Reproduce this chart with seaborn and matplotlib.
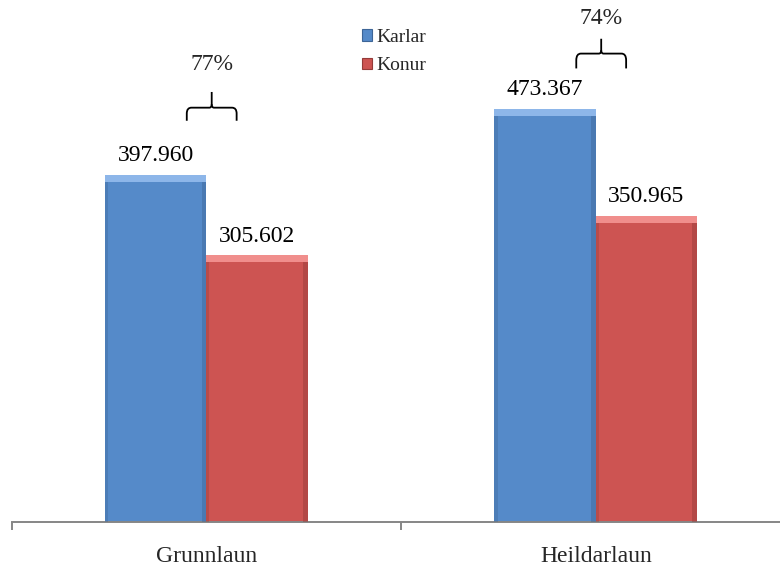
import numpy as np
import pandas as pd
import matplotlib
matplotlib.use("Agg")
import matplotlib.pyplot as plt
import matplotlib.patches as mpatches
from matplotlib.path import Path
import seaborn as sns

# ── Data ─────────────────────────────────────────────
categories = ["Grunnlaun", "Heildarlaun"]
series = ["Karlar", "Konur"]
karlar = [397.960, 473.367]
konur = [305.602, 350.965]
pct_labels = ["77%", "74%"]

colors = {"Karlar": "#558AC9", "Konur": "#CD5452"}
tops = {"Karlar": "#8DB6E9", "Konur": "#F08E8C"}
edges = {"Karlar": "#3D6597", "Konur": "#953B39"}

df = pd.DataFrame({
    "cat": categories * 2,
    "kyn": ["Karlar"] * 2 + ["Konur"] * 2,
    "val": karlar + konur,
})

# ── Style ─────────────────────────────────────────────
sns.set_theme(style="white")
plt.rcParams["font.family"] = ["Liberation Serif", "DejaVu Serif"]

fig = plt.figure(figsize=(7.8, 5.68), dpi=100)
# axis runs a little past the right edge of the picture, like the original
ax = fig.add_axes([11.5 / 780, 46 / 568, 779 / 780, 519 / 568])

sns.barplot(data=df, x="cat", y="val", hue="kyn", order=categories,
            hue_order=series, palette=colors, width=0.52, gap=0,
            saturation=1, legend=False, ax=ax, linewidth=0)

ax.set_ylim(0, 595)
ax.set_xlim(-0.5, 1.5)

# bevel-ish look + value labels
for kyn, bars in zip(series, ax.containers):
    for rect in bars:
        x0, w, h = rect.get_x(), rect.get_width(), rect.get_height()
        ax.add_patch(mpatches.Rectangle((x0, h - 8), w, 8, color=tops[kyn], lw=0, zorder=3))
        ax.add_patch(mpatches.Rectangle((x0 + w - 0.012, 0), 0.012, h - 8,
                                        color=edges[kyn], alpha=0.45, lw=0, zorder=3))
        ax.add_patch(mpatches.Rectangle((x0, 0), 0.008, h - 8,
                                        color=edges[kyn], alpha=0.35, lw=0, zorder=3))
        ax.text(x0 + w / 2, h + 10, f"{h:.3f}", ha="center", va="bottom",
                fontsize=17, color="black")


def brace(ax, xc, y0, y1, y2, hw=0.064, r=0.012):
    # curly brace opening downward: ends at y0, bar at y1, tip at y2
    ry = (y1 - y0) * 0.45
    for sgn in (-1, 1):
        verts = [
            (xc + sgn * hw, y0), (xc + sgn * hw, y1 - ry), (xc + sgn * hw, y1),
            (xc + sgn * (hw - r), y1), (xc + sgn * 0.006, y1), (xc, y1), (xc, y1 + 4),
        ]
        codes = [Path.MOVETO, Path.LINETO, Path.CURVE3, Path.CURVE3,
                 Path.LINETO, Path.CURVE3, Path.CURVE3]
        if sgn < 0:
            verts.append((xc, y2))
            codes.append(Path.LINETO)
        ax.add_patch(mpatches.PathPatch(Path(verts, codes), fill=False, lw=1.3,
                                        color="black", zorder=4))


brace_y = [(460, 475, 493, 524), (520, 537, 554, 577)]
for i, (lab, (y0, y1, y2, yt)) in enumerate(zip(pct_labels, brace_y)):
    xc = i + 0.014
    brace(ax, xc, y0, y1, y2)
    ax.text(xc, yt, lab, ha="center", va="center", fontsize=17)

# axes styling
for s in ["top", "left", "right"]:
    ax.spines[s].set_visible(False)
ax.spines["bottom"].set_color("#868686")
ax.spines["bottom"].set_linewidth(1.4)
ax.set_yticks([])
ax.set_xlabel("")
ax.set_ylabel("")
ax.set_xticks([0, 1])
ax.set_xticklabels(categories, fontsize=17)
ax.tick_params(axis="x", which="major", length=0, pad=17)
ax.set_xticks([-0.5, 0.5], minor=True)
ax.tick_params(axis="x", which="minor", length=6, width=1.4, color="#868686",
               direction="out", bottom=True)

# legend
handles = [mpatches.Patch(facecolor=colors[k], edgecolor=edges[k], lw=0.8) for k in series]
fig.legend(handles, series, loc="upper left", bbox_to_anchor=(352 / 780, 1 - 19 / 568),
           frameon=False, fontsize=14, handlelength=0.55, handleheight=0.55,
           handletextpad=0.2, labelspacing=0.6, borderpad=0)

fig.savefig("out.png", dpi=100)
